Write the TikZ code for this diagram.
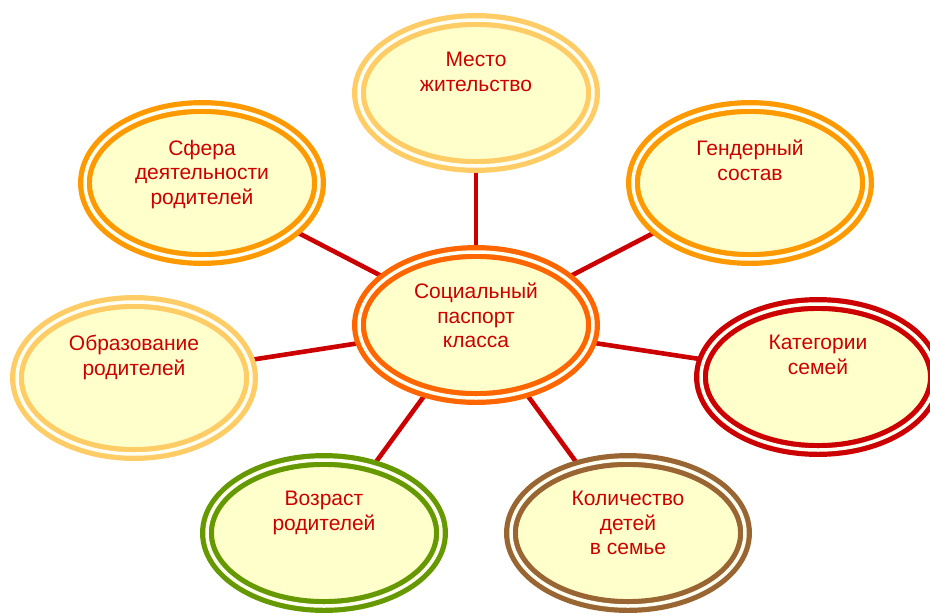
\documentclass[tikz,border=0pt]{standalone}
\usepackage{fontspec}
\setmainfont{Liberation Sans}
\usetikzlibrary{backgrounds,shapes.geometric}
\definecolor{txtred}{HTML}{CC0000}
\definecolor{fillyel}{HTML}{FFFFCC}
\definecolor{gapcol}{HTML}{FFFFF2}
\definecolor{ringcenter}{HTML}{FF6600}
\definecolor{ringlight}{HTML}{FFCC66}
\definecolor{ringorange}{HTML}{FF9900}
\definecolor{ringred}{HTML}{CC0000}
\definecolor{ringgreen}{HTML}{669900}
\definecolor{ringbrown}{HTML}{996633}
\begin{document}
\begin{tikzpicture}[x=1pt,y=-1pt,
  ring/.style={ellipse, draw=#1, double=gapcol, double distance=3.5pt,
    line width=5.2pt, fill=fillyel, minimum width=234pt,
    minimum height=146pt, inner sep=0pt},
  tall/.style={minimum height=152pt},
  lbl/.style={font=\fontsize{21}{24.5}\selectfont, text=txtred,
    align=center, inner sep=0pt, anchor=north},
  link/.style={draw=txtred, line width=4.6pt}]
\useasboundingbox (0,0) rectangle (930,616);
% ellipses
\node[ring=ringcenter] (c) at (476,325) {};
\node[ring=ringlight] (top) at (476,93) {};
\node[ring=ringorange,tall] (sf) at (202,183) {};
\node[ring=ringorange,tall] (gen) at (750,183) {};
\node[ring=ringlight,tall] (obr) at (134,378) {};
\node[ring=ringred] (kat) at (818,377) {};
\node[ring=ringgreen] (voz) at (324,533) {};
\node[ring=ringbrown] (kol) at (628,533) {};
% texts
\node[lbl] (tc) at (476,283) {Социальный\\паспорт\\класса};
\node[lbl] (ttop) at (476,52) {Место\\жительство};
\node[lbl] (tsf) at (202,140) {Сфера\\деятельности\\родителей};
\node[lbl] (tgen) at (750,140) {Гендерный\\состав};
\node[lbl] (tobr) at (134,335) {Образование\\родителей};
\node[lbl] (tkat) at (818,335) {Категории\\семей};
\node[lbl] (tvoz) at (324,491) {Возраст\\родителей};
\node[lbl] (tkol) at (628,491) {Количество\\детей\\в семье};
% connectors
\begin{pgfonlayer}{background}
\fill[white] (0,0) rectangle (930,616);
\foreach \n in {top,sf,gen,obr,kat,voz,kol}
  \draw[link] (c.center) -- (\n.center);
\end{pgfonlayer}
\end{tikzpicture}
\end{document}
